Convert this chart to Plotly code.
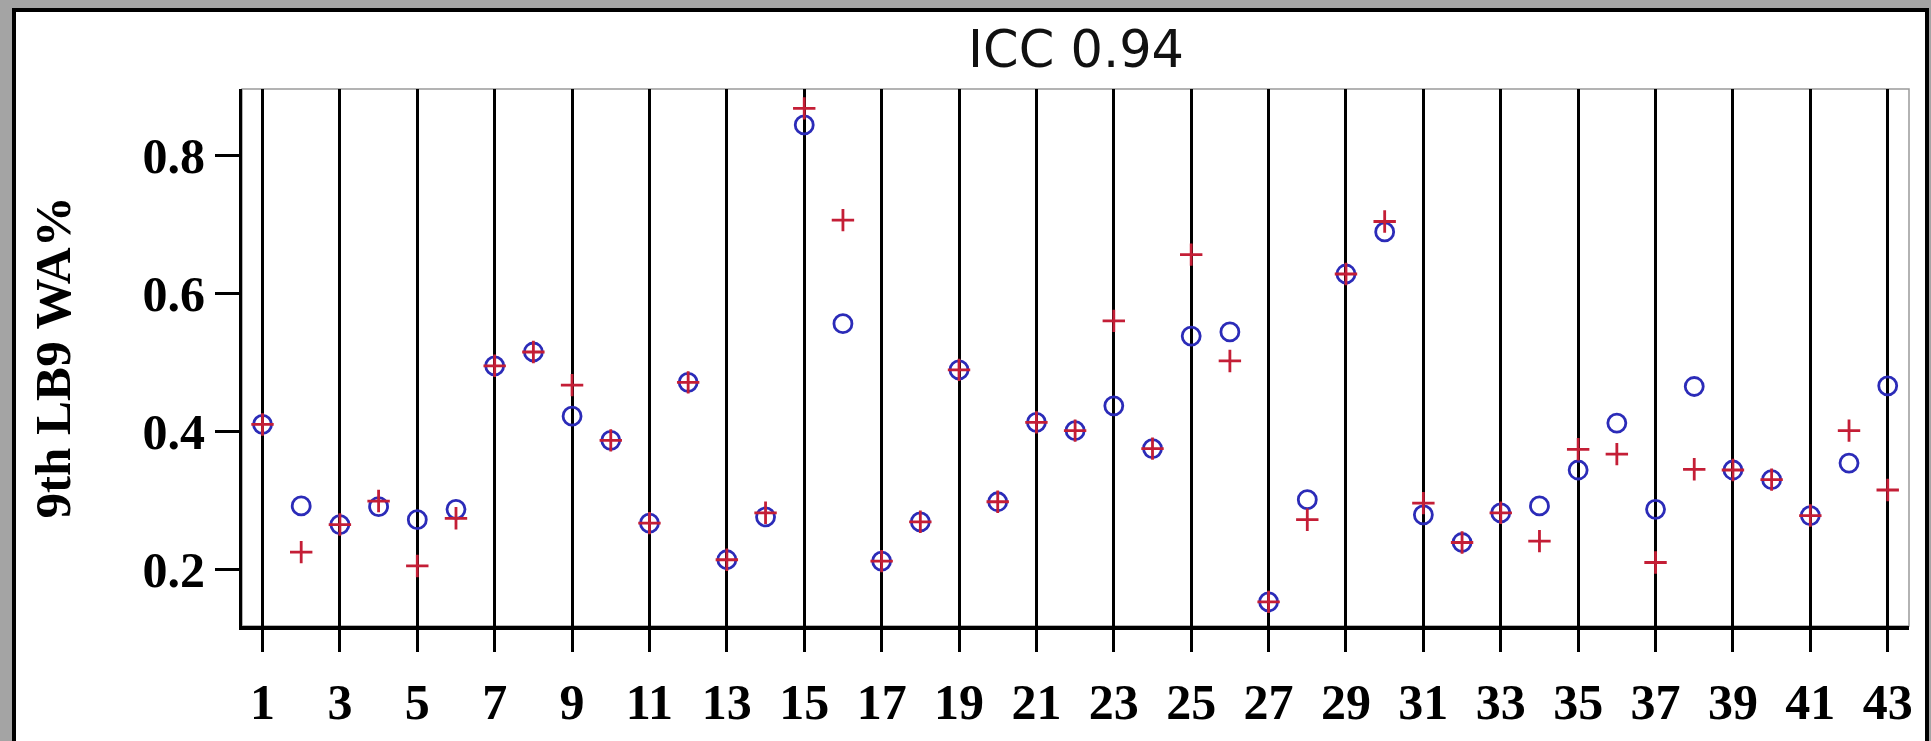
import plotly.graph_objects as go

# Subject index along the x axis
subjects = list(range(1, 44))

# First measurement (blue open circles)
measure_a = [0.410, 0.292, 0.265, 0.291, 0.272, 0.287, 0.495, 0.515, 0.422, 0.387,
             0.267, 0.471, 0.214, 0.276, 0.844, 0.556, 0.212, 0.269, 0.489, 0.298,
             0.413, 0.401, 0.437, 0.375, 0.538, 0.544, 0.153, 0.301, 0.628, 0.689,
             0.279, 0.239, 0.282, 0.292, 0.344, 0.412, 0.287, 0.465, 0.344, 0.330,
             0.278, 0.354, 0.466]

# Second measurement (red crosses)
measure_b = [0.410, 0.225, 0.265, 0.299, 0.205, 0.274, 0.495, 0.515, 0.467, 0.387,
             0.267, 0.471, 0.214, 0.282, 0.868, 0.706, 0.212, 0.269, 0.489, 0.298,
             0.413, 0.401, 0.560, 0.375, 0.656, 0.502, 0.153, 0.272, 0.628, 0.704,
             0.296, 0.239, 0.282, 0.241, 0.374, 0.367, 0.210, 0.345, 0.344, 0.330,
             0.278, 0.401, 0.315]

x_ticks = list(range(1, 44, 2))
y_ticks = [0.2, 0.4, 0.6, 0.8]
y_tick_text = ["0.2", "0.4", "0.6", "0.8"]

chart_title = "ICC 0.94"
y_title = "9th LB9 WA%"

BLUE = "#2B2BB8"
RED = "#C41E36"

W, H = 1931, 741
ML, MR, MT, MB = 242, 22, 89, 115
PW, PH = W - ML - MR, H - MT - MB


def px_x(p):
    return (p - ML) / PW


def px_y(p):
    return (H - MB - p) / PH


fig = go.Figure()
fig.add_trace(go.Scatter(
    x=subjects, y=measure_a, mode="markers", showlegend=False,
    marker=dict(symbol="circle-open", size=18, color=BLUE,
                line=dict(width=2.8, color=BLUE)),
))
fig.add_trace(go.Scatter(
    x=subjects, y=measure_b, mode="markers", showlegend=False,
    marker=dict(symbol="cross-thin-open", size=16, color=RED,
                line=dict(width=2.8, color=RED)),
))

tick_font = dict(family="Liberation Serif", size=50, color="black", weight="bold")

fig.update_layout(
    width=W, height=H,
    margin=dict(l=ML, r=MR, t=MT, b=MB, pad=0),
    paper_bgcolor="#a4a4a4",
    plot_bgcolor="white",
    xaxis=dict(
        range=[0.47, 43.55], tickmode="array", tickvals=x_ticks,
        ticks="outside", ticklen=22, tickwidth=3, tickcolor="black",
        ticklabelstandoff=7,
        showgrid=True, gridcolor="black", gridwidth=2.8,
        showline=True, linecolor="black", linewidth=3.5,
        zeroline=False, tickfont=tick_font,
    ),
    yaxis=dict(
        range=[0.118, 0.896], tickmode="array", tickvals=y_ticks,
        ticktext=y_tick_text,
        ticks="outside", ticklen=24, tickwidth=3, tickcolor="black",
        showgrid=False, showline=True, linecolor="black", linewidth=3,
        zeroline=False, tickfont=tick_font,
    ),
    shapes=[
        # white page with black frame
        dict(type="rect", xref="paper", yref="paper", layer="below",
             x0=px_x(14), x1=px_x(1927), y0=px_y(746), y1=px_y(10),
             fillcolor="white", line=dict(color="black", width=4)),
        # light box around the plotting region
        dict(type="rect", xref="paper", yref="paper", layer="below",
             x0=0, x1=1, y0=0, y1=1,
             fillcolor="rgba(0,0,0,0)", line=dict(color="#9a9a9a", width=1.5)),
    ],
    annotations=[
        dict(text=chart_title, xref="paper", yref="paper",
             x=0.5, y=px_y(49), xanchor="center", yanchor="middle",
             showarrow=False,
             font=dict(family="DejaVu Sans", size=51, color="#111111")),
        dict(text=y_title, xref="paper", yref="paper",
             x=px_x(52), y=0.5, xanchor="center", yanchor="middle",
             textangle=-90, showarrow=False,
             font=dict(family="Liberation Serif", size=51, color="black",
                       weight="bold")),
    ],
)

fig.write_html("out.html")
